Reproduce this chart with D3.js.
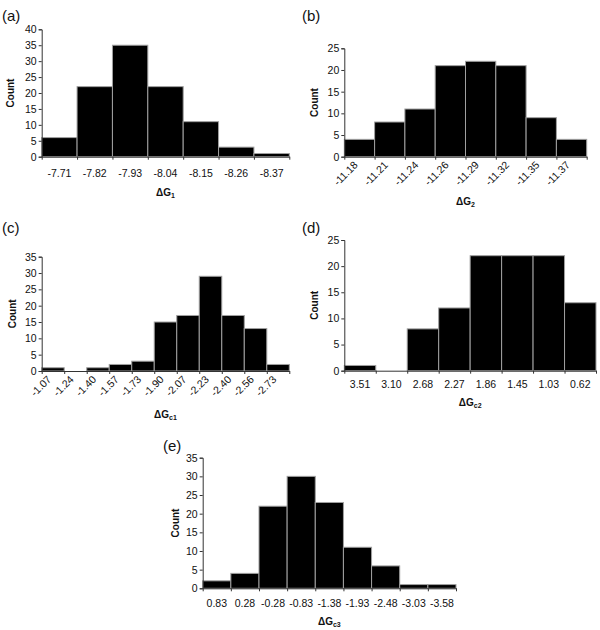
<!DOCTYPE html>
<html><head><meta charset="utf-8">
<script src="https://cdn.jsdelivr.net/npm/d3@7/dist/d3.min.js"></script>
<style>
body{margin:0;background:#fff;}
svg{display:block;font-family:"Liberation Sans",Arial,sans-serif;}
</style></head>
<body><svg id="c" width="600" height="630"></svg>
<script>
// ---- data ----
const catsA = ["-7.71","-7.82","-7.93","-8.04","-8.15","-8.26","-8.37"];
const valsA = [6,22,35,22,11,3,1];
const catsB = ["-11.18","-11.21","-11.24","-11.26","-11.29","-11.32","-11.35","-11.37"];
const valsB = [4,8,11,21,22,21,9,4];
const catsC = ["-1.07","-1.24","-1.40","-1.57","-1.73","-1.90","-2.07","-2.23","-2.40","-2.56","-2.73"];
const valsC = [1,0,1,2,3,15,17,29,17,13,2];
const catsD = ["3.51","3.10","2.68","2.27","1.86","1.45","1.03","0.62"];
const valsD = [1,0,8,12,22,22,22,13];
const catsE = ["0.83","0.28","-0.28","-0.83","-1.38","-1.93","-2.48","-3.03","-3.58"];
const valsE = [2,4,22,30,23,11,6,1,1];
const panelLabels = ["(a)","(b)","(c)","(d)","(e)"];
const titleSubs = ["1","2","c1","c2","c3"];
const yMaxes = [40,25,35,25,35];

const svg = d3.select("#c");

const layout = [
  {x0:41.7, x1:289.3, yT:29.3, y0:156.7, rot:false, lo:20.3, lab:[2,21], cnt:10, ttl:196},
  {x0:344.3, x1:586.7, yT:48.3, y0:156.7, rot:true, lo:9, lab:[302,21], cnt:314, ttl:205},
  {x0:41.7, x1:289.3, yT:256.7, y0:371, rot:true, lo:9, lab:[2,233], cnt:12, ttl:418},
  {x0:344.3, x1:596, yT:240, y0:370.7, rot:false, lo:17.5, lab:[302,233], cnt:314, ttl:406},
  {x0:202.7, x1:456, yT:457.7, y0:588.3, rot:false, lo:18.7, lab:[163,451], cnt:175, ttl:625}
];
const cats = [catsA,catsB,catsC,catsD,catsE];
const vals = [valsA,valsB,valsC,valsD,valsE];

layout.forEach((L,i)=>{
  const g = svg.append("g");
  const cs = cats[i], vs = vals[i];
  const x = d3.scaleBand().domain(cs).range([L.x0,L.x1]).paddingInner(0).paddingOuter(0);
  const xi = d3.scaleLinear().domain([0,cs.length]).range([L.x0,L.x1]);
  const y = d3.scaleLinear().domain([0,yMaxes[i]]).range([L.y0,L.yT]);

  // bars
  g.selectAll("rect.bar").data(cs).join("rect")
    .attr("x",d=>x(d)).attr("width",x.bandwidth())
    .attr("y",(d,k)=>y(vs[k])).attr("height",(d,k)=>L.y0-y(vs[k]))
    .attr("fill","#000").attr("stroke","#a0a0a0").attr("stroke-width",1);

  // y axis
  const ya = d3.axisLeft(y).tickValues(d3.range(0,yMaxes[i]+1,5)).tickSize(3).tickPadding(2);
  const gy = g.append("g").attr("transform",`translate(${L.x0},0)`).call(ya);
  gy.select(".domain").attr("stroke","#333");
  gy.selectAll(".tick line").attr("stroke","#333");
  gy.selectAll("text").attr("font-size",10.5).attr("fill","#111");

  // x axis with ticks at bin boundaries
  const xa = d3.axisBottom(xi).tickValues(d3.range(0,cs.length+1)).tickSize(3).tickSizeOuter(0).tickFormat("");
  const gx = g.append("g").attr("transform",`translate(0,${L.y0})`).call(xa);
  gx.select(".domain").attr("stroke","#333");
  gx.selectAll(".tick line").attr("stroke","#333");

  // x labels
  const lbl = g.selectAll("text.xl").data(cs).join("text")
    .attr("font-size",10.5).attr("fill","#111");
  if(L.rot){
    lbl.attr("text-anchor","end")
      .attr("transform",d=>`translate(${x(d)+x.bandwidth()/2-1},${L.y0+L.lo}) rotate(-45)`)
      .text(d=>d);
  } else {
    lbl.attr("text-anchor","middle").attr("x",d=>x(d)+x.bandwidth()/2)
      .attr("y",L.y0+L.lo).text(d=>d);
  }

  // Count label
  g.append("text").attr("font-size",10).attr("font-weight","bold").attr("fill","#111")
    .attr("text-anchor","middle")
    .attr("transform",`translate(${L.cnt+3.5},${(L.y0+L.yT)/2}) rotate(-90)`)
    .text("Count");

  // title
  const t = g.append("text").attr("font-size",10).attr("font-weight","bold").attr("fill","#111")
    .attr("text-anchor","middle").attr("x",(L.x0+L.x1)/2).attr("y",L.ttl);
  t.append("tspan").text("ΔG");
  t.append("tspan").attr("font-size",7).attr("dy",2).text(titleSubs[i]);

  // panel label
  g.append("text").attr("font-size",15).attr("fill","#111")
    .attr("x",L.lab[0]).attr("y",L.lab[1]).text(panelLabels[i]);
});
</script></body></html>
